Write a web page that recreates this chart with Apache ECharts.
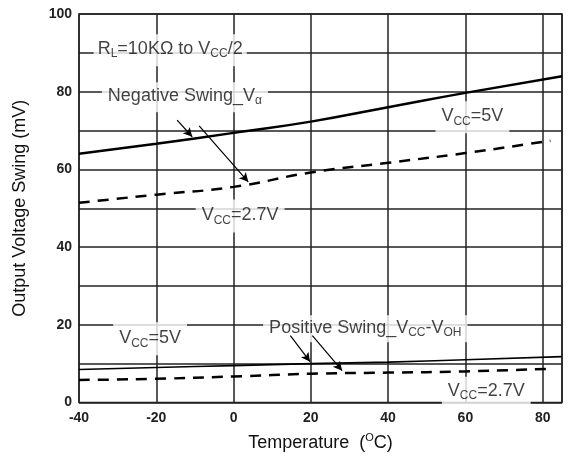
<!DOCTYPE html>
<html><head><meta charset="utf-8">
<script src="https://cdn.jsdelivr.net/npm/echarts@6/dist/echarts.min.js"></script>
<style>html,body{margin:0;padding:0;background:#fff}#c{width:568px;height:457px}</style>
</head><body><div id="c"></div>
<script>
const neg5X = [-40,-20,0,20,40,60,85];
const neg5Y = [64,66.6,69.4,72.3,76,79.7,84];
const neg27X = [-40,-20,0,20,40,60,82];
const neg27Y = [51.4,53.5,55.5,59.2,61.7,64.2,67.4];
const pos5X = [-40,-20,0,20,40,60,85];
const pos5Y = [8.5,9.0,9.5,10,10.4,11,11.8];
const pos27X = [-40,-20,0,20,40,60,82];
const pos27Y = [5.8,6.1,6.7,7.4,7.7,8.0,8.7];
const xTicks = [-40,-20,0,20,40,60,80];
const yTicks = [0,20,40,60,80,100];

// annotation anchors (data coords)
const notes = [
  {pos:[-16.4,90.7], text:'{t|R}{s|L}{t|=10KΩ to V}{s|CC}{t|/2}', pad:[4,4,6,4]},
  {pos:[-12.6,78.6], text:'{t|Negative Swing_V}{s|α}', pad:[3,6,5,6]},
  {pos:[61.8,73.4], text:'{t|V}{s|CC}{t|=5V}', pad:[4,6,6,6]},
  {pos:[1.7,48], text:'{t|V}{s|CC}{t|=2.7V}', pad:[5,6,6,6]},
  {pos:[-21.6,16.4], text:'{t|V}{s|CC}{t|=5V}', pad:[5,6,6,6]},
  {pos:[34.1,19.0], text:'{t|Positive Swing_V}{s|CC}{t|-V}{s|OH}', pad:[2,6,3,6]},
  {pos:[65.4,3.0], text:'{t|V}{s|CC}{t|=2.7V}', pad:[3,6,3,6]}
];
const arrows = [
  [[-14.6,72.7],[-10.7,68.4]],
  [[-8.9,71.2],[3.8,56.8]],
  [[14.7,17.2],[19.8,10.5]],
  [[20.4,17.2],[28.1,8.2]]
];
const zip = (a,b)=>a.map((v,i)=>[v,b[i]]);
const FF = 'Liberation Sans';
const rich = {
  t:{fontSize:18, fontFamily:FF, color:'#111', lineHeight:22},
  s:{fontSize:12, fontFamily:FF, color:'#111', lineHeight:22, padding:[10,0,0,0]}
};
const chart = echarts.init(document.getElementById('c'));
chart.setOption({
  animation:false,
  backgroundColor:'#fff',
  grid:{left:79, top:14, right:6, bottom:54, show:true, borderColor:'#222', borderWidth:1.5, backgroundColor:'transparent'},
  xAxis:{type:'value', min:-40, max:85, interval:20,
    axisLine:{show:false}, axisTick:{show:false},
    splitLine:{lineStyle:{color:'#222', width:1.5}},
    axisLabel:{fontFamily:FF, fontSize:14, fontWeight:'bold', color:'#222', margin:9,
      formatter:v=>xTicks.includes(v)?String(v):''},
    name:'{n|Temperature  (}{u|O}{n|C)}', nameLocation:'middle', nameGap:30,
    nameTextStyle:{rich:{n:{fontSize:18, fontFamily:FF, color:'#111'}, u:{fontSize:11, fontFamily:FF, color:'#111', padding:[0,0,10,0]}}}
  },
  yAxis:{type:'value', min:0, max:100, interval:10,
    axisLine:{show:false}, axisTick:{show:false},
    splitLine:{lineStyle:{color:'#222', width:1.5}},
    axisLabel:{fontFamily:FF, fontSize:14, fontWeight:'bold', color:'#222', margin:7,
      formatter:v=>yTicks.includes(v)?String(v):''},
    name:'Output Voltage Swing (mV)', nameLocation:'middle', nameGap:50,
    nameTextStyle:{fontSize:18, fontFamily:FF, color:'#111'}
  },
  series:[
    {type:'scatter', data:notes.map(n=>({value:n.pos, label:{show:true, position:'inside', formatter:n.text, backgroundColor:'#fff', padding:n.pad, rich:rich}})),
     symbolSize:1, itemStyle:{color:'rgba(0,0,0,0)'}, z:3, silent:true},
    {type:'line', data:zip(neg5X,neg5Y), smooth:true, showSymbol:false, lineStyle:{color:'#000', width:2.5}, z:5,
     markLine:{silent:true, symbol:['none','arrow'], symbolSize:[7,9], lineStyle:{color:'#000', width:1.2, type:'solid'}, label:{show:false},
       data:arrows.map(a=>[{coord:a[0]},{coord:a[1]}])}},
    {type:'line', data:zip(neg27X,neg27Y), smooth:true, showSymbol:false, lineStyle:{color:'#000', width:2.5, type:[11,8]}, z:5},
    {type:'line', data:zip(pos5X,pos5Y), smooth:true, showSymbol:false, lineStyle:{color:'#000', width:1.6}, z:5},
    {type:'line', data:zip(pos27X,pos27Y), smooth:true, showSymbol:false, lineStyle:{color:'#000', width:2.5, type:[11,8]}, z:5}
  ]
});
</script></body></html>
